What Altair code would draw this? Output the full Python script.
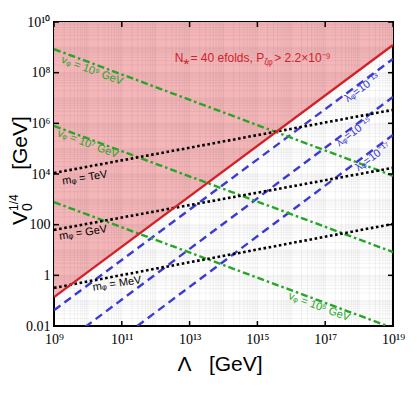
import json
import altair as alt
import pandas as pd

# ---------------- data ----------------
LAMBDA = [1e9, 1e19]                      # Λ [GeV] at the two ends of every straight (log-log) line
RED_BOUND = [0.138, 1.23e9]               # N*=40 efolds / P bound (V0^1/4)
TOP = [1e10, 1e10]
BLUE_13 = [0.042, 3.5e8]                  # λφ = 1e-13
BLUE_15 = [1.1e-3, 1.1e7]                 # λφ = 1e-15
BLUE_17 = [3.5e-5, 3.5e5]                 # λφ = 1e-17
M_TEV = [1.1e4, 3.4e6]                    # mφ = TeV
M_GEV = [62.0, 1.75e4]                    # mφ = GeV
M_MEV = [0.32, 107.0]                     # mφ = MeV
V_9 = [8.5e8, 8.5e3]                      # vφ = 1e9 GeV
V_7 = [7.9e5, 8.3]                        # vφ = 1e7 GeV
V_5 = [776.0, 8.3e-3]                     # vφ = 1e5 GeV

X_TICKS = [1e9, 1e11, 1e13, 1e15, 1e17, 1e19]
X_TICK_LABELS = ["10⁹", "10¹¹", "10¹³", "10¹⁵", "10¹⁷", "10¹⁹"]
Y_TICKS = [1e-2, 1, 1e2, 1e4, 1e6, 1e8, 1e10]
Y_TICK_LABELS = ["0.01", "1", "100", "10⁴", "10⁶", "10⁸", "10¹⁰"]

GREEN_LABELS = ["vᵩ = 10⁹ GeV", "vᵩ = 10⁷ GeV", "vᵩ = 10⁵ GeV"]
GREEN_LX = [10 ** 10.12, 10 ** 10.0, 10 ** 16.82]
GREEN_LY = [10 ** 8.07, 10 ** 5.18, 10 ** -1.25]
BLACK_LABELS = ["mᵩ = TeV", "mᵩ = GeV", "mᵩ = MeV"]
BLACK_LX = [10 ** 9.91, 10 ** 9.86, 10 ** 10.86]
BLACK_LY = [10 ** 3.84, 10 ** 1.67, 10 ** -0.34]
BLUE_LABELS = ["λᵩ=10⁻¹³", "λᵩ=10⁻¹⁵", "λᵩ=10⁻¹⁷"]
BLUE_LX = [10 ** 18.09, 10 ** 17.85, 10 ** 18.41]
BLUE_LY = [10 ** 7.39, 10 ** 5.66, 10 ** 4.67]
HEADER_X = [10 ** 15.2]
HEADER_Y = [10 ** 8.42]

# ---------------- layout / style ----------------
W, H = 339, 304
PINK = "#F4B6B9"
RED = "#D02228"
BLUE = "#3B3BD4"
GREEN = "#26A626"
SANS = "Liberation Sans"
SERIF = "Liberation Serif"
NB = "\u00a0"

x_scale = alt.Scale(type="log", domain=[1e9, 1e19], nice=False)
y_scale = alt.Scale(type="log", domain=[1e-2, 1e10], nice=False)

x_lab_expr = json.dumps(X_TICK_LABELS, ensure_ascii=False) + "[round((log(datum.value)/LN10 - 9)/2)]"
y_lab_expr = json.dumps(Y_TICK_LABELS, ensure_ascii=False) + "[round((log(datum.value)/LN10 + 2)/2)]"

x_axis = alt.Axis(values=X_TICKS, labelExpr=x_lab_expr, title=None, grid=False, ticks=False,
                  domain=False, labelFont=SERIF, labelFontSize=14, labelColor="black",
                  labelPadding=6, labelFlush=False, labelOverlap=False)
y_axis = alt.Axis(values=Y_TICKS, labelExpr=y_lab_expr, title=None, grid=False, ticks=False,
                  domain=False, labelFont=SERIF, labelFontSize=14, labelColor="black",
                  labelPadding=4, labelFlush=False, labelOverlap=False)


def X(field):
    return alt.X(field, type="quantitative", scale=x_scale, axis=x_axis)


def Y(field):
    return alt.Y(field, type="quantitative", scale=y_scale, axis=y_axis)


# region fill
fill_df = pd.DataFrame({"L": LAMBDA, "V": RED_BOUND, "T": TOP})
fill = alt.Chart(fill_df).mark_area(color=PINK, opacity=1).encode(
    x=X("L"), y=Y("V"), y2="T")

# grid
xg = [m * 10.0 ** e for e in range(9, 19) for m in range(1, 10)] + [1e19]
yg = [m * 10.0 ** e for e in range(-2, 10) for m in range(1, 10)] + [1e10]
gx = alt.Chart(pd.DataFrame({"g": xg})).mark_rule(color="#000", opacity=0.05, strokeWidth=1).encode(x=X("g"))
gy = alt.Chart(pd.DataFrame({"g": yg})).mark_rule(color="#000", opacity=0.05, strokeWidth=1).encode(y=Y("g"))


def line(vals, color, dash, width=2.4):
    d = pd.DataFrame({"L": LAMBDA, "V": vals})
    kw = dict(color=color, strokeWidth=width, clip=True)
    if dash:
        kw["strokeDash"] = dash
    return alt.Chart(d).mark_line(**kw).encode(x=X("L"), y=Y("V"))


lines = [
    line(BLUE_13, BLUE, [8, 5]), line(BLUE_15, BLUE, [8, 5]), line(BLUE_17, BLUE, [8, 5]),
    line(V_9, GREEN, [7, 3, 2.5, 3]), line(V_7, GREEN, [7, 3, 2.5, 3]), line(V_5, GREEN, [7, 3, 2.5, 3]),
    line(M_TEV, "black", [2.6, 2.6], 2.6), line(M_GEV, "black", [2.6, 2.6], 2.6),
    line(M_MEV, "black", [2.6, 2.6], 2.6),
    line(RED_BOUND, RED, None, 2.4),
]

# inward ticks on all four sides
xt = pd.DataFrame({"t": X_TICKS})
yt = pd.DataFrame({"t": Y_TICKS})
tb = alt.Chart(xt).mark_rule(color="black", strokeWidth=1.5).encode(x=X("t"), y=alt.value(H), y2=alt.value(H - 5))
tt = alt.Chart(xt).mark_rule(color="black", strokeWidth=1.5).encode(x=X("t"), y=alt.value(0), y2=alt.value(5))
tl = alt.Chart(yt).mark_rule(color="black", strokeWidth=1.5).encode(y=Y("t"), x=alt.value(0), x2=alt.value(5))
tr = alt.Chart(yt).mark_rule(color="black", strokeWidth=1.5).encode(y=Y("t"), x=alt.value(W - 5), x2=alt.value(W))


def labels(texts, xs, ys, color, angle, size=11):
    d = pd.DataFrame({"L": xs, "V": ys, "t": texts})
    return alt.Chart(d).mark_text(color=color, angle=angle, font=SANS, fontSize=size,
                                  align="center", baseline="middle").encode(
        x=X("L"), y=Y("V"), text="t:N")


lab_green = labels(GREEN_LABELS, GREEN_LX, GREEN_LY, GREEN, 20.5)
lab_black = labels(BLACK_LABELS, BLACK_LX, BLACK_LY, "black", 351)
lab_blue = labels(BLUE_LABELS, BLUE_LX, BLUE_LY, BLUE, 323.3)

hd = pd.DataFrame({"L": HEADER_X, "V": HEADER_Y})
h1 = alt.Chart(hd).mark_text(text="N⁎= 40 efolds, P", color=RED, font=SANS, fontSize=12,
                             align="right", baseline="alphabetic").encode(x=X("L"), y=Y("V"))
h2 = alt.Chart(hd).mark_text(text="ζφ", color=RED, font=SANS, fontSize=8.5, dy=3,
                             align="left", baseline="alphabetic").encode(x=X("L"), y=Y("V"))
h3 = alt.Chart(hd).mark_text(text=NB + "> 2.2×10⁻⁹", color=RED, font=SANS, fontSize=12, dx=10,
                             align="left", baseline="alphabetic").encode(x=X("L"), y=Y("V"))


def ptext(txt, x, y, size, angle=0, align="center"):
    return alt.Chart(pd.DataFrame({"t": [txt]})).mark_text(
        font=SANS, fontSize=size, angle=angle, align=align, baseline="alphabetic", color="black"
    ).encode(x=alt.value(x), y=alt.value(y), text="t:N")


xtitle = ptext("Λ" + NB * 3 + "[GeV]", 166, 349, 21)
yt1 = ptext("[GeV]", -27, 121, 21, angle=270)
yt2 = ptext("V", -27, 203, 21, angle=270, align="left")
yt3 = ptext("0", -22, 189, 14, angle=270, align="left")
yt4 = ptext("1/4", -36, 189, 12, angle=270, align="left")

chart = alt.layer(
    fill, gx, gy, *lines, tb, tt, tl, tr, lab_green, lab_black, lab_blue, h1, h2, h3,
    xtitle, yt1, yt2, yt3, yt4
).properties(
    width=W, height=H,
    autosize=alt.AutoSizeParams(type="none"),
    padding={"left": 46, "top": 14, "right": 16, "bottom": 62},
).configure_view(stroke="black", strokeWidth=2)

chart.save("out.html", embed_options={"renderer": "svg", "actions": False})
